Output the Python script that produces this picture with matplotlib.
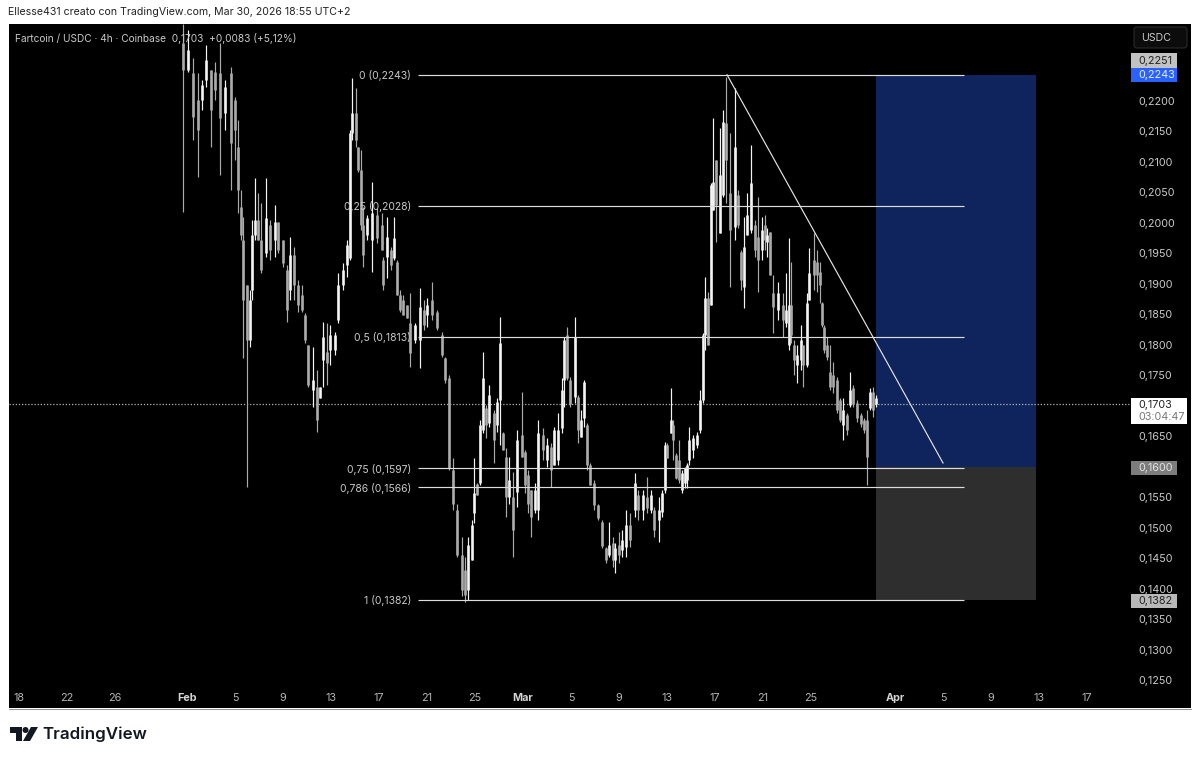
import matplotlib
matplotlib.use('Agg')
import matplotlib.pyplot as plt
from matplotlib.patches import Rectangle, Polygon, Circle, FancyBboxPatch

plt.rcParams['font.family'] = ['Inter', 'DejaVu Sans']

# days counted from Jan 18, prices in USDC
bar_days = [
    13.67, 14.08, 14.5, 14.92, 15.25, 15.58, 16, 16.33, 16.75, 17.17,
    17.67, 18, 18.25, 18.5, 18.67, 19, 19.25, 19.42, 19.67, 19.92,
    20.17, 20.58, 20.92, 21.33, 21.58, 22, 22.33, 22.58, 22.92, 23.25,
    23.58, 23.83, 24.08, 24.5, 24.83, 25.08, 25.33, 25.67, 25.92, 26.33,
    26.58, 27, 27.33, 27.58, 27.75, 28.08, 28.25, 28.5, 28.67, 29,
    29.42, 29.83, 30.25, 30.33, 30.67, 31, 31.25, 31.5, 31.75, 32,
    32.33, 32.58, 33, 33.42, 33.75, 34, 34.42, 34.83, 35.25, 35.5,
    35.83, 36.17, 36.5, 36.92, 37.17, 37.42, 37.75, 37.92, 38.17, 38.42,
    38.67, 38.92, 39.17, 39.58, 39.83, 40.08, 40.33, 40.58, 40.83, 41.17,
    41.5, 41.92, 42.17, 42.42, 42.67, 43, 43.25, 43.67, 44, 44.33,
    44.58, 44.92, 45.25, 45.42, 45.67, 45.92, 46.33, 46.58, 46.83, 47.08,
    47.33, 47.58, 47.92, 48.25, 48.58, 48.92, 49.17, 49.5, 49.67, 50,
    50.25, 50.58, 50.92, 51.33, 51.58, 52, 52.33, 52.67, 52.92, 53.33,
    53.58, 53.83, 54, 54.33, 54.5, 54.75, 55, 55.25, 55.5, 55.67,
    55.83, 56.17, 56.5, 56.75, 57, 57.17, 57.42, 57.67, 57.83, 58.08,
    58.42, 58.67, 58.92, 59.25, 59.67, 59.92, 60.17, 60.42, 60.67, 61,
    61.33, 61.58, 61.92, 62.17, 62.33, 62.58, 62.83, 63.25, 63.67, 63.92,
    64.17, 64.33, 64.58, 64.83, 65.17, 65.33, 65.67, 65.83, 66.25, 66.5,
    66.75, 66.92, 67.08, 67.33, 67.58, 67.83, 68.17, 68.42, 68.67, 69,
    69.25, 69.5, 69.83, 70.17, 70.42, 70.67, 70.92, 71.17, 71.42,
]
highs = [
    .2326, .2316, .2271, .2246, .2234, .2292, .2251, .2264, .2295, .2234,
    .2256, .2207, .2169, .2054, .2010, .1898, .1890, .2005, .2074, .2049,
    .2033, .2074, .2005, .2029, .2002, .1972, .1931, .1977, .1960, .1906,
    .1898, .1852, .1800, .1796, .1759, .1731, .1838, .1836, .1833, .1821,
    .1918, .1934, .1972, .2152, .2238, .2221, .2125, .2120, .2026, .2013,
    .2067, .2025, .2016, .1944, .2010, .1960, .2010, .1939, .1890, .1882,
    .1865, .1885, .1836, .1893, .1874, .1877, .1903, .1857, .1821, .1780,
    .1751, .1615, .1538, .1485, .1452, .1485, .1513, .1615, .1573, .1677,
    .1788, .1701, .1734, .1693, .1713, .1846, .1657, .1631, .1616, .1592,
    .1660, .1723, .1628, .1595, .1562, .1573, .1677, .1664, .1647, .1639,
    .1665, .1688, .1746, .1813, .1829, .1747, .1846, .1718, .1693, .1742,
    .1672, .1606, .1578, .1538, .1513, .1469, .1510, .1485, .1475, .1492,
    .1496, .1529, .1524, .1590, .1562, .1562, .1583, .1562, .1534, .1551,
    .1562, .1641, .1639, .1729, .1677, .1623, .1644, .1595, .1600, .1606,
    .1665, .1652, .1657, .1726, .1819, .1911, .1887, .2065, .2172, .2103,
    .2156, .2185, .2239, .2148, .2221, .2054, .1956, .2010, .2049, .2128,
    .2005, .2043, .2010, .2013, .1992, .1985, .1915, .1903, .1885, .1918,
    .1975, .1936, .1808, .1800, .1833, .1800, .1885, .1959, .1984, .1956,
    .1936, .1870, .1833, .1813, .1800, .1772, .1747, .1713, .1713, .1688,
    .1756, .1734, .1710, .1688, .1680, .1693, .1729, .1731, .1718,
]
lows = [
    .2018, .2248, .2136, .2075, .2185, .2223, .2125, .2202, .2079, .2152,
    .2054, .2103, .2016, .1972, .1779, .1567, .1796, .1874, .1972, .1972,
    .1918, .1944, .1939, .1944, .1951, .1928, .1838, .1874, .1874, .1854,
    .1854, .1803, .1731, .1698, .1657, .1713, .1731, .1734, .1767, .1783,
    .1836, .1890, .1911, .1939, .2136, .2125, .2084, .1988, .1928, .1972,
    .1920, .1967, .1956, .1890, .1910, .1923, .1939, .1882, .1854, .1849,
    .1844, .1764, .1803, .1762, .1824, .1829, .1841, .1824, .1780, .1737,
    .1595, .1529, .1452, .1387, .1378, .1382, .1447, .1508, .1554, .1570,
    .1656, .1647, .1665, .1606, .1657, .1636, .1628, .1518, .1538, .1452,
    .1534, .1616, .1557, .1524, .1485, .1524, .1513, .1611, .1600, .1567,
    .1603, .1603, .1655, .1698, .1742, .1698, .1705, .1639, .1649, .1665,
    .1595, .1570, .1529, .1513, .1467, .1442, .1452, .1436, .1426, .1442,
    .1452, .1452, .1469, .1518, .1513, .1513, .1524, .1524, .1485, .1477,
    .1518, .1557, .1614, .1655, .1611, .1580, .1573, .1557, .1565, .1565,
    .1603, .1614, .1631, .1655, .1705, .1792, .1800, .1865, .2021, .1969,
    .1983, .2043, .2033, .1895, .1972, .1992, .1890, .1860, .1980, .1983,
    .1944, .1887, .1939, .1956, .1944, .1915, .1819, .1841, .1813, .1829,
    .1792, .1803, .1751, .1738, .1759, .1731, .1764, .1874, .1890, .1887,
    .1869, .1829, .1787, .1775, .1726, .1721, .1688, .1674, .1644, .1652,
    .1698, .1698, .1674, .1665, .1655, .1570, .1693, .1682, .1698,
]
opens = [
    .2295, .2251, .2246, .2202, .2202, .2234, .2251, .2248, .2246, .2180,
    .2246, .2202, .2125, .2026, .1972, .1898, .1808, .1890, .1980, .2005,
    .1972, .1951, .1997, .1972, .2002, .1972, .1923, .1890, .1947, .1898,
    .1882, .1849, .1800, .1726, .1731, .1713, .1775, .1788, .1792, .1792,
    .1841, .1898, .1931, .1942, .2148, .2180, .2125, .2087, .1997, .1980,
    .1972, .2013, .1997, .1939, .1944, .1956, .1942, .1936, .1882, .1874,
    .1865, .1836, .1808, .1808, .1857, .1849, .1874, .1854, .1816, .1779,
    .1746, .1595, .1529, .1455, .1431, .1398, .1447, .1524, .1572, .1573,
    .1660, .1697, .1672, .1688, .1669, .1710, .1655, .1616, .1551, .1551,
    .1559, .1652, .1624, .1587, .1562, .1529, .1529, .1652, .1611, .1632,
    .1603, .1611, .1664, .1742, .1816, .1742, .1715, .1715, .1649, .1680,
    .1669, .1603, .1573, .1537, .1510, .1467, .1455, .1475, .1447, .1472,
    .1464, .1469, .1505, .1529, .1554, .1529, .1551, .1529, .1529, .1513,
    .1526, .1562, .1636, .1655, .1669, .1619, .1611, .1562, .1573, .1578,
    .1611, .1628, .1636, .1660, .1710, .1816, .1877, .1865, .2021, .2103,
    .1983, .2046, .2164, .2049, .1993, .2046, .1952, .1895, .1980, .1988,
    .1997, .1977, .1956, .1997, .1969, .1985, .1885, .1857, .1865, .1836,
    .1800, .1865, .1800, .1767, .1775, .1800, .1767, .1874, .1939, .1936,
    .1920, .1869, .1829, .1800, .1756, .1751, .1742, .1710, .1669, .1685,
    .1701, .1729, .1705, .1685, .1677, .1677, .1697, .1723, .1703,
]
closes = [
    .2251, .2284, .2174, .2152, .2226, .2267, .2185, .2218, .2172, .2223,
    .2131, .2152, .2054, .1980, .1874, .1808, .1874, .1980, .2005, .1972,
    .1923, .2008, .1956, .2002, .1956, .1934, .1857, .1947, .1898, .1865,
    .1857, .1808, .1734, .1742, .1677, .1731, .1813, .1770, .1816, .1816,
    .1898, .1923, .1964, .2148, .2180, .2136, .2087, .1997, .1947, .2008,
    .2016, .1975, .1956, .1898, .1977, .1931, .1975, .1882, .1857, .1849,
    .1844, .1787, .1833, .1862, .1833, .1865, .1849, .1828, .1783, .1742,
    .1598, .1538, .1455, .1398, .1390, .1472, .1505, .1557, .1554, .1669,
    .1746, .1669, .1718, .1644, .1706, .1803, .1628, .1551, .1578, .1496,
    .1644, .1616, .1570, .1538, .1518, .1562, .1655, .1628, .1636, .1595,
    .1660, .1660, .1726, .1808, .1746, .1703, .1813, .1660, .1677, .1739,
    .1603, .1570, .1537, .1516, .1470, .1447, .1472, .1447, .1467, .1455,
    .1480, .1505, .1480, .1573, .1529, .1554, .1533, .1554, .1496, .1529,
    .1557, .1636, .1614, .1677, .1644, .1582, .1578, .1590, .1598, .1603,
    .1644, .1647, .1652, .1710, .1816, .1877, .1800, .2062, .2067, .2029,
    .2079, .2166, .2103, .1988, .2125, .1997, .1906, .1960, .2013, .2066,
    .1956, .1939, .1988, .1972, .1980, .1915, .1862, .1885, .1841, .1857,
    .1865, .1816, .1775, .1783, .1808, .1767, .1869, .1918, .1915, .1915,
    .1898, .1833, .1792, .1780, .1731, .1731, .1693, .1677, .1693, .1660,
    .1726, .1703, .1680, .1670, .1660, .1616, .1723, .1693, .1713,
]

fib_prices = [0.2243, 0.2028, 0.1813, 0.1597, 0.1566, 0.1382]
fib_labels = ['0 (0,2243)', '0,25 (0,2028)', '0,5 (0,1813)',
              '0,75 (0,1597)', '0,786 (0,1566)', '1 (0,1382)']
fib_start, fib_end = 33.25, 78.75

trend_days = [59, 77]
trend_prices = [0.2243, 0.1606]

zone_start, zone_end = 71.42, 84.75
zone_top, zone_mid, zone_bottom = 0.2243, 0.1600, 0.1382
last_price = 0.1703

price_ticks = [0.22, 0.215, 0.21, 0.205, 0.2, 0.195, 0.19, 0.185, 0.18, 0.175,
               0.17, 0.165, 0.16, 0.155, 0.15, 0.145, 0.14, 0.135, 0.13, 0.125]
date_ticks = [0, 4, 8, 14, 18, 22, 26, 30, 34, 38, 42, 46, 50, 54, 58, 62, 66,
              73, 77, 81, 85, 89]
date_labels = ['18', '22', '26', 'Feb', '5', '9', '13', '17', '21', '25', 'Mar',
               '5', '9', '13', '17', '21', '25', 'Apr', '5', '9', '13', '17']

WIDTH, HEIGHT = 1200, 760
TEXT = '#c9c9c9'
LINE = '#dcdcdc'


def box(ax, x0, x1, y0, y1, color):
    ax.add_patch(Rectangle((x0, y0), x1 - x0, y1 - y0, color=color, lw=0))


fig = plt.figure(figsize=(WIDTH / 100, HEIGHT / 100), dpi=100, facecolor='white')

# everything in the chrome layers is placed in picture pixels
back = fig.add_axes([0, 0, 1, 1], zorder=0)
back.set_xlim(0, WIDTH)
back.set_ylim(HEIGHT, 0)
back.axis('off')
box(back, 9, 1191, 24, 708, 'black')
back.plot([9, 1191], [708.5, 708.5], color='#666666', lw=0.5)

ax = fig.add_axes([9 / WIDTH, 1 - 687 / HEIGHT, 1121 / WIDTH, 663 / HEIGHT], zorder=1)
ax.patch.set_alpha(0)
ax.set_xlim(-0.833, 92.58)
ax.set_ylim(0.12385, 0.23263)
for side in ax.spines.values():
    side.set_visible(False)

ax.add_patch(Rectangle((zone_start, zone_mid), zone_end - zone_start, zone_top - zone_mid,
                       color='#0f235c', lw=0, zorder=1))
ax.add_patch(Rectangle((zone_start, zone_bottom), zone_end - zone_start, zone_mid - zone_bottom,
                       color='#2e2e2e', lw=0, zorder=1))

ax.axhline(last_price, color='#b5b5b5', lw=0.9, ls=(0, (1, 1.5)), zorder=2)

# wicks and bodies, white for up bars and grey for down bars
colors = ['#f4f4f4' if c >= o else '#ababab' for o, c in zip(opens, closes)]
ax.vlines(bar_days, lows, highs, colors=colors, lw=0.85, zorder=3)
ax.vlines(bar_days, [min(o, c) for o, c in zip(opens, closes)],
          [max(o, c) for o, c in zip(opens, closes)], colors=colors, lw=1.9, zorder=3)

ax.hlines(fib_prices, fib_start, fib_end, colors=LINE, lw=0.85, zorder=4)
for price, label in zip(fib_prices, fib_labels):
    ax.text(fib_start - 0.58, price, label, color=TEXT, fontsize=7.5, ha='right',
            va='center_baseline', zorder=5)
ax.plot(trend_days, trend_prices, color='#e4e4e4', lw=0.85, zorder=4)

ax.yaxis.tick_right()
ax.set_yticks(price_ticks)
ax.set_yticklabels([f'{p:.4f}'.replace('.', ',') for p in price_ticks])
ax.set_xticks(date_ticks)
ax.set_xticklabels(date_labels)
ax.tick_params(axis='y', length=0, pad=5.7, labelsize=7.8, labelcolor=TEXT)
ax.tick_params(axis='x', length=0, pad=4.4, labelsize=7.8, labelcolor='#b5b5b5')
for tick in ax.get_xticklabels():
    if tick.get_text() in ('Feb', 'Mar', 'Apr'):
        tick.set_fontweight('bold')
        tick.set_color('#d5d5d5')

top = fig.add_axes([0, 0, 1, 1], zorder=2)
top.set_xlim(0, WIDTH)
top.set_ylim(HEIGHT, 0)
top.axis('off')
top.patch.set_alpha(0)

top.text(8, 12, 'Ellesse431 creato con TradingView.com, Mar 30, 2026 18:55 UTC+2',
         color='#222222', fontsize=7.6, va='center')
top.text(15, 38, 'Fartcoin / USDC · 4h · Coinbase  0,1703  +0,0083 (+5,12%)',
         color=TEXT, fontsize=7.3, va='center')

top.add_patch(FancyBboxPatch((1134, 27), 53, 21, boxstyle='round,pad=0,rounding_size=3',
                             fc='#0c0c0c', ec='#2b2b2b', lw=0.8))
top.text(1141, 38, 'USDC', color=TEXT, fontsize=7.6, va='center')

box(top, 1131, 1177, 53, 68, '#c2c2c2')
top.text(1138, 60.5, '0,2251', color='#222222', fontsize=7.8, va='center')
box(top, 1131, 1177, 68, 82, '#2962ff')
top.text(1138, 75, '0,2243', color='#e8eeff', fontsize=7.8, va='center')
box(top, 1131, 1187, 398, 424, 'white')
top.text(1138, 404.5, '0,1703', color='#222222', fontsize=7.8, va='center')
top.text(1138, 416.5, '03:04:47', color='#777777', fontsize=7.8, va='center')
box(top, 1131, 1177, 461, 475, '#7d7d7d')
top.text(1138, 468, '0,1600', color='#e4e4e4', fontsize=7.8, va='center')
box(top, 1131, 1177, 594, 608, '#b8b8b8')
top.text(1138, 601, '0,1382', color='#222222', fontsize=7.8, va='center')

# TradingView logo
logo = '#131722'
top.add_patch(Polygon([(10, 727), (22, 727), (22, 741), (16, 741), (16, 733), (10, 733)], color=logo, lw=0))
top.add_patch(Circle((25.5, 730), 3, color=logo, lw=0))
top.add_patch(Polygon([(31, 727), (38, 727), (30, 741), (23, 741)], color=logo, lw=0))
top.text(42, 734.5, 'TradingView', color=logo, fontsize=12.2, fontweight='semibold', va='center')

fig.savefig('out.png', dpi=100, facecolor='white')
